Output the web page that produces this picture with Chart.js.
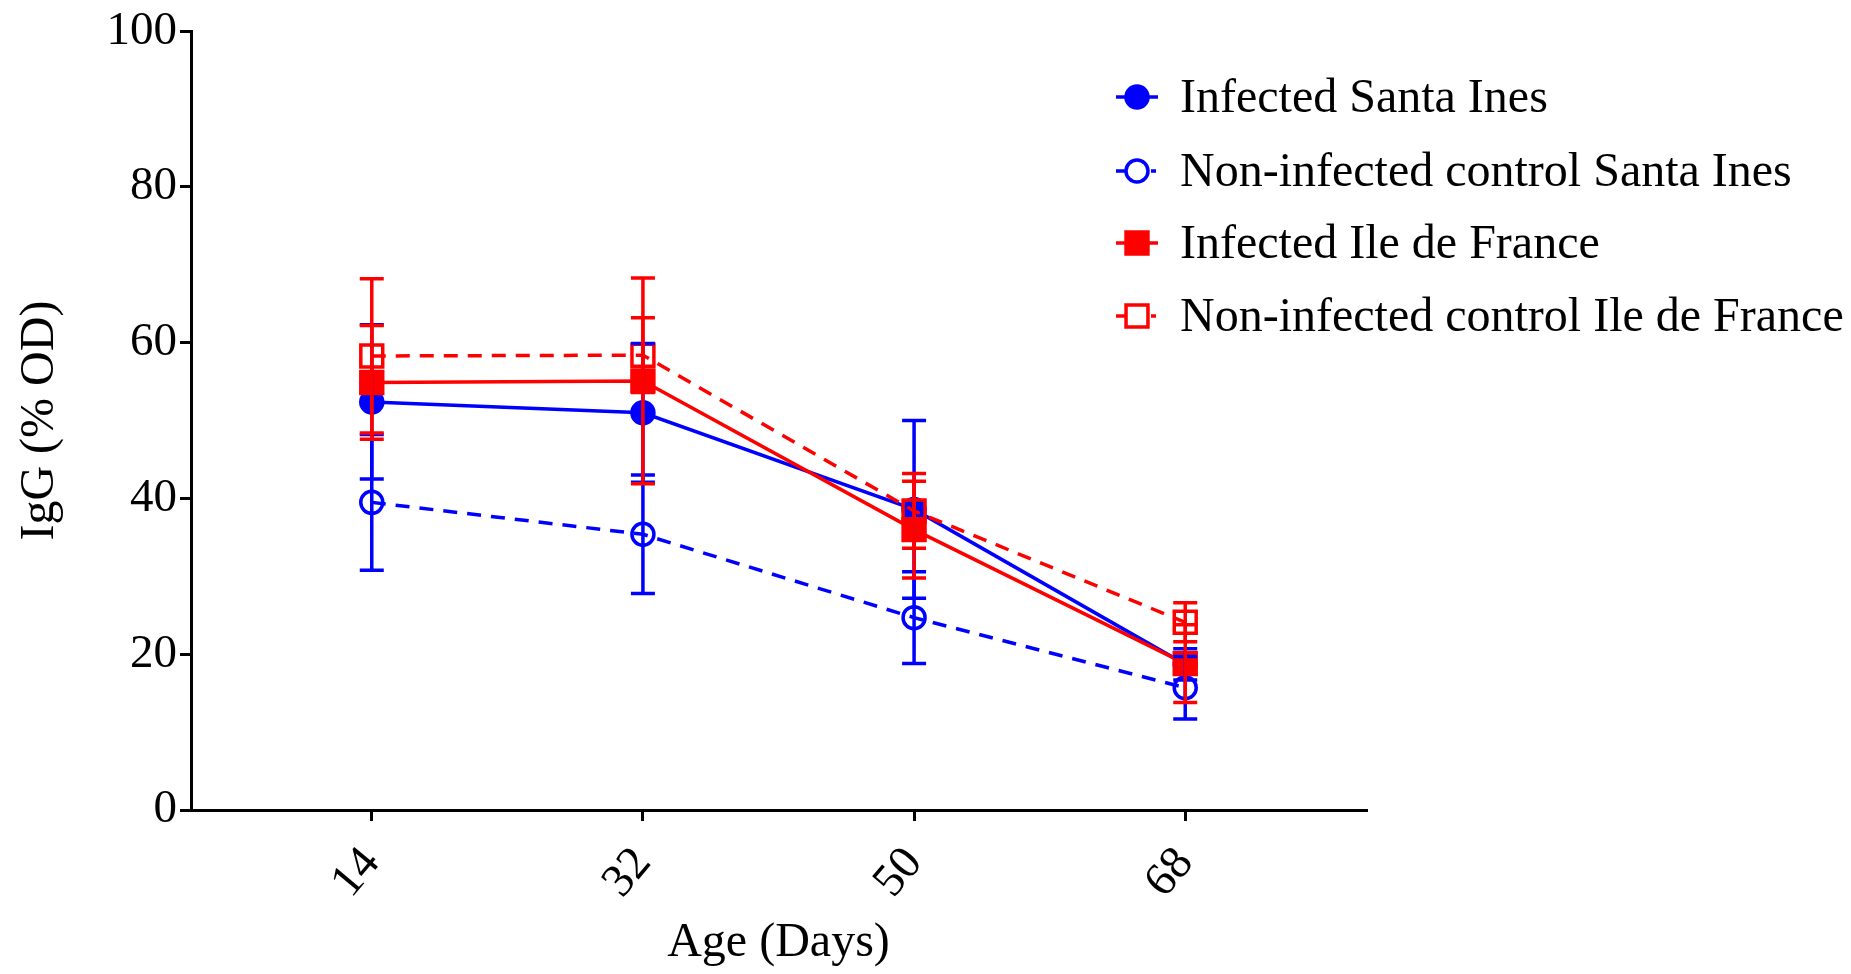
<!DOCTYPE html>
<html>
<head>
<meta charset="utf-8">
<script src="https://cdn.jsdelivr.net/npm/chart.js@4.4.1/dist/chart.umd.min.js"></script>
<style>
  html, body { margin: 0; padding: 0; background: #fff; }
  #wrap { width: 1851px; height: 974px; position: relative; }
</style>
</head>
<body>
<div id="wrap"><canvas id="igChart"></canvas></div>
<script>
// Age (days) on the x axis
const ages = [14, 32, 50, 68];
const yTicks = [0, 20, 40, 60, 80, 100];

// Means and error (half bar length) per series
const infSantaInes = [52.4, 51.0, 38.6, 18.7];
const infSantaInesErr = [9.9, 8.9, 11.4, 2.0];
const ctrlSantaInes = [39.5, 35.4, 24.7, 15.7];
const ctrlSantaInesErr = [8.7, 7.6, 5.9, 4.0];
const infIleDeFrance = [54.9, 55.1, 36.0, 18.8];
const infIleDeFranceErr = [7.3, 13.2, 6.2, 5.0];
const ctrlIleDeFrance = [58.3, 58.4, 38.4, 24.1];
const ctrlIleDeFranceErr = [9.9, 4.8, 4.8, 2.5];

const BLUE = '#0000ff';
const RED = '#ff0000';
const SERIF = "'Liberation Serif', 'Times New Roman', serif";
const NONE = 'rgba(0,0,0,0)';

function points(values) {
    return ages.map((a, i) => ({ x: a, y: values[i] }));
}

function markerSize(shape) {
    return shape === 'rect' ? 15.5 : 11;
}

function makeSet(label, values, errs, color, shape, open, dashed, order) {
    return {
        label: label,
        data: points(values),
        errors: errs,
        borderColor: color,
        backgroundColor: open ? NONE : color,
        borderWidth: 3.5,
        borderDash: dashed ? [14, 10] : [],
        pointStyle: shape,
        pointRadius: markerSize(shape),
        pointBorderWidth: 3.5,
        pointBorderColor: color,
        pointBackgroundColor: open ? NONE : color,
        tension: 0,
        fill: false,
        order: order
    };
}

// error bars, drawn with the y scale
const errorBars = {
    id: 'errorBars',
    afterDatasetsDraw(chart) {
        const ctx = chart.ctx;
        const yScale = chart.scales.y;
        ctx.save();
        chart.data.datasets.forEach((ds, di) => {
            const meta = chart.getDatasetMeta(di);
            ctx.strokeStyle = ds.borderColor;
            ctx.lineWidth = 3.5;
            ctx.setLineDash([]);
            meta.data.forEach((pt, i) => {
                const v = ds.data[i].y;
                const e = ds.errors[i];
                const yTop = yScale.getPixelForValue(v + e);
                const yBot = yScale.getPixelForValue(v - e);
                const x = pt.x;
                ctx.beginPath();
                ctx.moveTo(x, yTop);
                ctx.lineTo(x, yBot);
                ctx.moveTo(x - 12, yTop);
                ctx.lineTo(x + 12, yTop);
                ctx.moveTo(x - 12, yBot);
                ctx.lineTo(x + 12, yBot);
                ctx.stroke();
            });
        });
        ctx.restore();
    }
};

// legend placed in the upper right of the figure
const sideLegend = {
    id: 'sideLegend',
    afterDraw(chart) {
        const ctx = chart.ctx;
        const rows = [97, 171, 243, 316];
        ctx.save();
        chart.data.datasets.forEach((ds, i) => {
            const y = rows[i];
            ctx.strokeStyle = ds.borderColor;
            ctx.lineWidth = 3.5;
            ctx.setLineDash([]);
            ctx.beginPath();
            if (ds.borderDash.length) {
                ctx.moveTo(1116, y);
                ctx.lineTo(1125, y);
                ctx.moveTo(1151, y);
                ctx.lineTo(1156, y);
            } else {
                ctx.moveTo(1116, y);
                ctx.lineTo(1158, y);
            }
            ctx.stroke();
            ctx.fillStyle = ds.pointBackgroundColor;
            ctx.strokeStyle = ds.borderColor;
            Chart.helpers.drawPoint(ctx, {
                pointStyle: ds.pointStyle,
                radius: markerSize(ds.pointStyle),
                borderWidth: 3.5
            }, 1137, y);
            ctx.fillStyle = '#000';
            ctx.font = '48px ' + SERIF;
            ctx.textBaseline = 'middle';
            ctx.textAlign = 'left';
            ctx.fillText(ds.label, 1180, y + 2);
        });
        ctx.restore();
    }
};

const ctx = document.getElementById('igChart').getContext('2d');
new Chart(ctx, {
    type: 'line',
    data: {
        datasets: [
            makeSet('Infected Santa Ines', infSantaInes, infSantaInesErr, BLUE, 'circle', false, false, 2),
            makeSet('Non-infected control Santa Ines', ctrlSantaInes, ctrlSantaInesErr, BLUE, 'circle', true, true, 2),
            makeSet('Infected Ile de France', infIleDeFrance, infIleDeFranceErr, RED, 'rect', false, false, 1),
            makeSet('Non-infected control Ile de France', ctrlIleDeFrance, ctrlIleDeFranceErr, RED, 'rect', true, true, 1)
        ]
    },
    options: {
        responsive: true,
        maintainAspectRatio: false,
        animation: false,
        layout: { padding: { left: 0, right: 485, top: 0, bottom: 0 } },
        plugins: {
            legend: { display: false },
            tooltip: { enabled: false }
        },
        scales: {
            x: {
                type: 'linear',
                min: 2,
                max: 80,
                afterBuildTicks: axis => { axis.ticks = ages.map(v => ({ value: v })); },
                afterFit: scale => { scale.height = 164; },
                border: { display: true, color: '#000', width: 3 },
                grid: { drawOnChartArea: false, color: '#000', lineWidth: 3, tickLength: 11 },
                ticks: {
                    autoSkip: false,
                    minRotation: 50,
                    maxRotation: 50,
                    padding: 16,
                    color: '#000',
                    font: { family: SERIF, size: 47 }
                },
                title: {
                    display: true,
                    text: 'Age (Days)',
                    color: '#000',
                    font: { family: SERIF, size: 48 },
                    padding: { top: 0, bottom: 2 }
                }
            },
            y: {
                min: 0,
                max: 100,
                afterBuildTicks: axis => { axis.ticks = yTicks.map(v => ({ value: v })); },
                afterFit: scale => { scale.width = 191; },
                border: { display: true, color: '#000', width: 3 },
                grid: { drawOnChartArea: false, color: '#000', lineWidth: 3, tickLength: 11 },
                ticks: {
                    padding: 3,
                    color: '#000',
                    font: { family: SERIF, size: 47 }
                },
                title: {
                    display: true,
                    text: 'IgG (% OD)',
                    color: '#000',
                    font: { family: SERIF, size: 48 },
                    padding: { top: 12, bottom: 0 }
                }
            }
        }
    },
    plugins: [errorBars, sideLegend]
});
</script>
</body>
</html>
